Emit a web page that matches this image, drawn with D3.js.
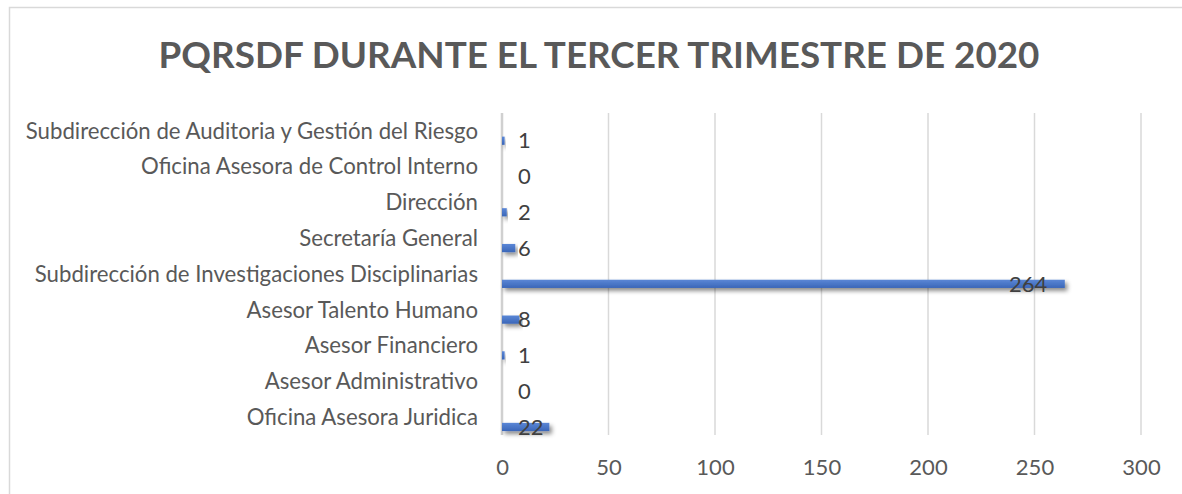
<!DOCTYPE html>
<html><head><meta charset="utf-8">
<script src="https://cdn.jsdelivr.net/npm/d3@7"></script>
<style>body{margin:0;background:#fff}svg{display:block}</style>
</head><body>
<svg id="c" width="1182" height="494"></svg>
<script>
const categories = [
  "Subdirección de Auditoria y Gestión del Riesgo",
  "Oficina Asesora de Control Interno",
  "Dirección",
  "Secretaría General",
  "Subdirección de Investigaciones Disciplinarias",
  "Asesor Talento Humano",
  "Asesor Financiero",
  "Asesor Administrativo ",
  "Oficina Asesora Juridica"
];
const values = [1, 0, 2, 6, 264, 8, 1, 0, 22];
const ticks = [0, 50, 100, 150, 200, 250, 300];
const title = "PQRSDF DURANTE EL TERCER TRIMESTRE DE 2020";

const svg = d3.select("#c");
const font = "Lato, 'Open Sans', sans-serif";
const txt = "#595959";

const defs = svg.append("defs");
const f = defs.append("filter").attr("id","sh").attr("x","-5%").attr("y","-100%").attr("width","120%").attr("height","400%");
f.append("feDropShadow").attr("dx",2.5).attr("dy",3).attr("stdDeviation",2).attr("flood-color","#000").attr("flood-opacity",0.45);
const g = defs.append("linearGradient").attr("id","bg").attr("x1",0).attr("y1",0).attr("x2",0).attr("y2",1);
g.append("stop").attr("offset","0%").attr("stop-color","#5b87d6");
g.append("stop").attr("offset","100%").attr("stop-color","#3a66b8");

// outer border
svg.append("rect").attr("x",9.5).attr("y",7.5).attr("width",1200).attr("height",520)
  .attr("fill","none").attr("stroke","#d9d9d9").attr("stroke-width",1.5);

svg.append("text").attr("x",599).attr("y",68).attr("text-anchor","middle")
  .attr("font-family",font).attr("font-weight","bold").attr("font-size",36.8)
  .attr("fill",txt).text(title);

const x = d3.scaleLinear().domain([0,300]).range([502,1141]);
const y = d3.scaleBand().domain(categories).range([113,435]).paddingInner(0).paddingOuter(0);
const bw = y.bandwidth();

// gridlines
svg.append("g").selectAll("line").data(ticks).join("line")
  .attr("x1",d=>x(d)).attr("x2",d=>x(d)).attr("y1",113).attr("y2",435)
  .attr("stroke",d=>d===0?"#d0d0d0":"#d9d9d9").attr("stroke-width",d=>d===0?2.5:1.5);

// x axis tick labels
const xa = svg.append("g").attr("transform","translate(0,467)")
  .call(d3.axisBottom(x).tickValues(ticks).tickSize(0).tickPadding(0));
xa.select(".domain").remove();
xa.selectAll("text").attr("font-family",font).attr("font-size",22).attr("fill",txt)
  .attr("dy","0.35em").attr("y",0);

// category labels
svg.append("g").selectAll("text").data(categories).join("text")
  .attr("x",478).attr("y",d=>y(d)+bw/2).attr("dy","0.35em").attr("text-anchor","end")
  .attr("font-family",font).attr("font-size",22.2).attr("fill",txt).text(d=>d);

// bars
const barH = bw*0.23, barOff = bw*0.775;
svg.append("g").selectAll("rect").data(values).join("rect")
  .attr("x",x(0)).attr("y",(d,i)=>y(categories[i])+barOff-barH/2)
  .attr("width",d=>d>0?x(d)-x(0)+0.5:0).attr("height",barH)
  .attr("fill","url(#bg)").attr("filter",(d)=>d>0?"url(#sh)":null);

// value labels
svg.append("g").selectAll("text").data(values).join("text")
  .attr("x",d=>x(d)-x(0)>100 ? x(d)-17 : x(0)+16)
  .attr("text-anchor",d=>x(d)-x(0)>100 ? "end" : "start")
  .attr("y",(d,i)=>y(categories[i])+barOff).attr("dy","0.35em")
  .attr("font-family",font).attr("font-size",22).attr("fill","#404040").text(d=>d);
</script>
</body></html>
